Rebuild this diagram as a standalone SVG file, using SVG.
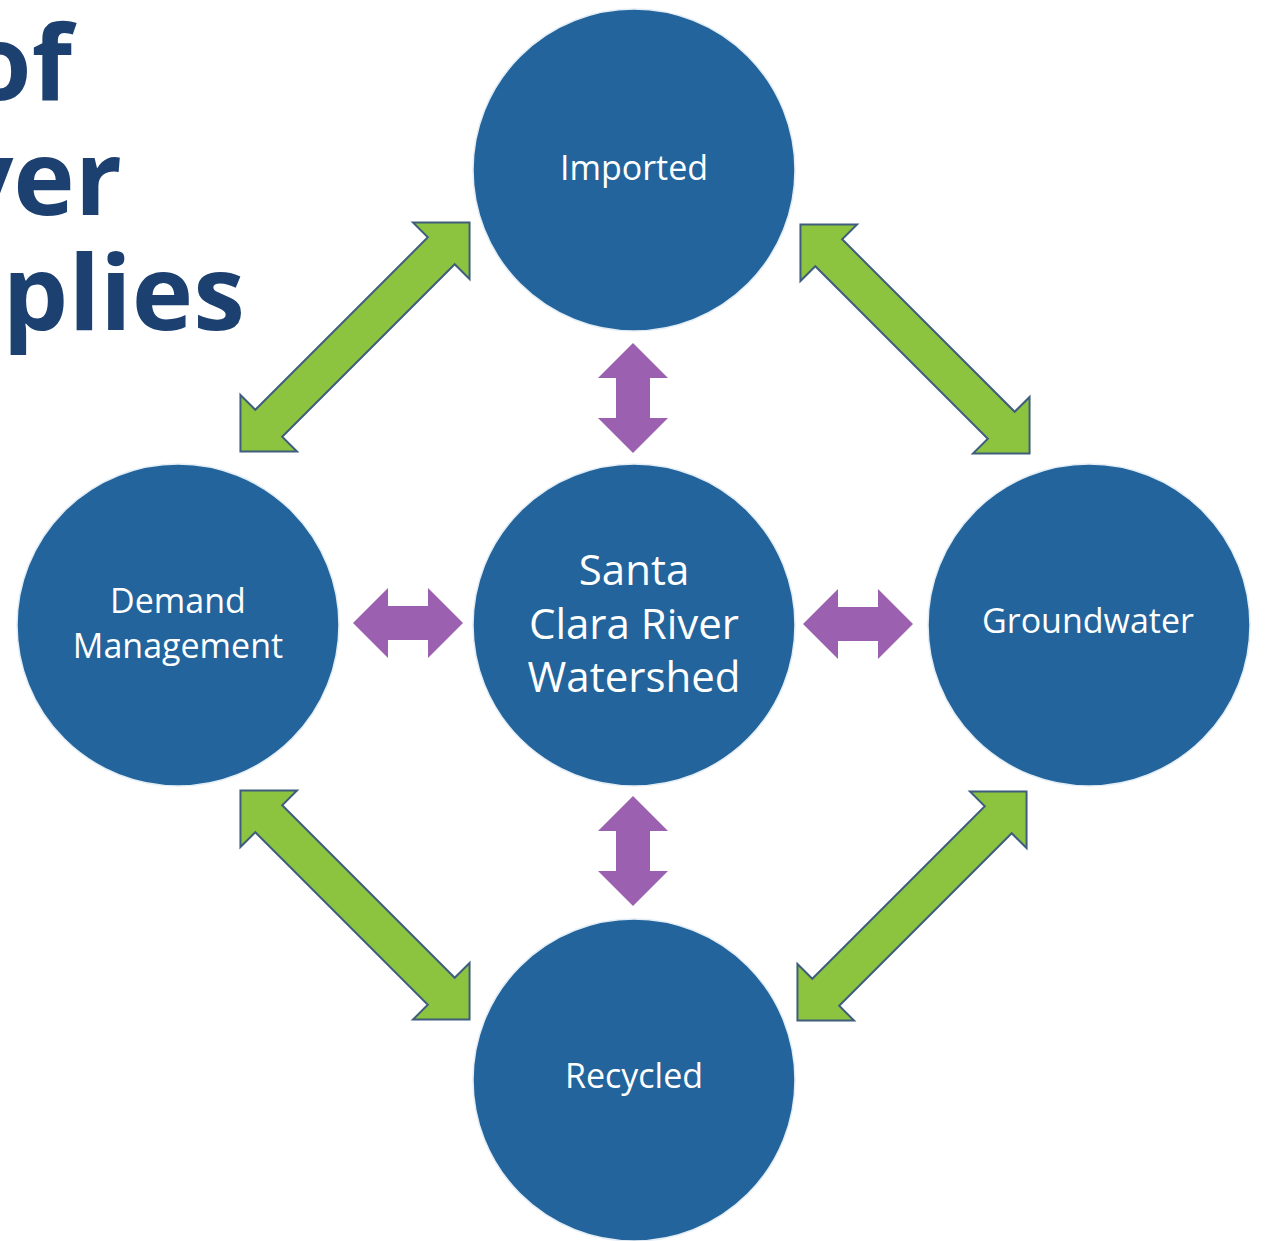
<svg xmlns="http://www.w3.org/2000/svg" xmlns:xlink="http://www.w3.org/1999/xlink" width="1266" height="1241" viewBox="0 0 1266 1241">
  <style>
    .node { fill: #22649b; stroke: #e3edf5; stroke-width: 1.5; }
    .label { fill: #ffffff; font-family: "Open Sans", "Noto Sans", sans-serif; font-size: 34px; text-anchor: middle; }
    .big { font-size: 42px; }
    .title { fill: #1c4170; font-family: "Open Sans", "Noto Sans", sans-serif; font-weight: 700; font-size: 104px; text-anchor: end; }
    .green { fill: #8cc43f; stroke: #3f5d7d; stroke-width: 2; stroke-linejoin: miter; }
    .purple { fill: #9b60b0; }
  </style>
  <defs>
    <path id="greenArrow" d="M -162,0 L -122,-40 L -122,-19 L 122,-19 L 122,-40 L 162,0 L 122,40 L 122,19 L -122,19 L -122,40 Z"/>
    <path id="purpleArrow" d="M -55,0 L -20,-35 L -20,-17 L 20,-17 L 20,-35 L 55,0 L 20,35 L 20,17 L -20,17 L -20,35 Z"/>
  </defs>
  <rect width="1266" height="1241" fill="#ffffff"/>

  <g id="title">
    <text class="title" x="72" y="100">of</text>
    <text class="title" x="122" y="215">ver</text>
    <text class="title" x="245" y="330">plies</text>
  </g>

  <g id="connectors">
    <use xlink:href="#greenArrow" class="green" transform="translate(355,337) rotate(-45)"/>
    <use xlink:href="#greenArrow" class="green" transform="translate(915,339) rotate(45)"/>
    <use xlink:href="#greenArrow" class="green" transform="translate(355,905) rotate(45)"/>
    <use xlink:href="#greenArrow" class="green" transform="translate(912,906) rotate(-45)"/>
    <use xlink:href="#purpleArrow" class="purple" transform="translate(633,398) rotate(90)"/>
    <use xlink:href="#purpleArrow" class="purple" transform="translate(633,851) rotate(90)"/>
    <use xlink:href="#purpleArrow" class="purple" transform="translate(408,623)"/>
    <use xlink:href="#purpleArrow" class="purple" transform="translate(858,624)"/>
  </g>

  <g id="node-imported">
    <circle class="node" cx="634" cy="170" r="161"/>
    <text class="label" x="634" y="180">Imported</text>
  </g>
  <g id="node-watershed">
    <circle class="node" cx="634" cy="625" r="161"/>
    <text class="label big" x="634" y="585">Santa</text>
    <text class="label big" x="634" y="639">Clara River</text>
    <text class="label big" x="634" y="692">Watershed</text>
  </g>
  <g id="node-demand">
    <circle class="node" cx="178" cy="625" r="161"/>
    <text class="label" x="178" y="613">Demand</text>
    <text class="label" x="178" y="658">Management</text>
  </g>
  <g id="node-groundwater">
    <circle class="node" cx="1089" cy="625" r="161"/>
    <text class="label" x="1088" y="633">Groundwater</text>
  </g>
  <g id="node-recycled">
    <circle class="node" cx="634" cy="1080" r="161"/>
    <text class="label" x="634" y="1088">Recycled</text>
  </g>
</svg>
